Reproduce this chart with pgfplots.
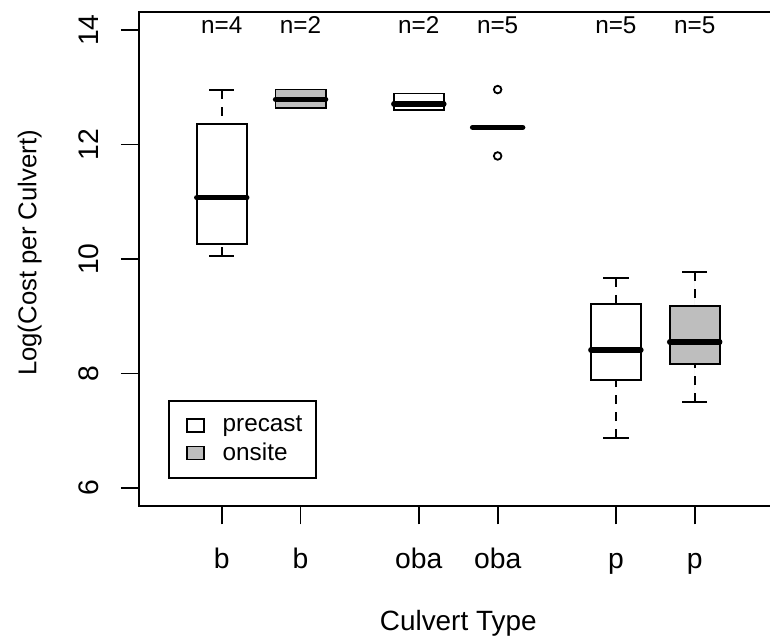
\documentclass[border=0pt]{standalone}
\usepackage{pgfplots}
\pgfplotsset{compat=1.18}
\usepgfplotslibrary{statistics}
\usepackage{fontspec}
\setmainfont{Liberation Sans}
\definecolor{rgray}{RGB}{190,190,190}
\pgfplotsset{
  boxplot/draw/lower whisker/.code={%
    \draw[dash pattern=on 4.5bp off 4bp]
      (boxplot box cs:\pgfplotsboxplotvalue{lower whisker},0.5) --
      (boxplot box cs:\pgfplotsboxplotvalue{lower quartile},0.5);
    \draw (boxplot whisker cs:\pgfplotsboxplotvalue{lower whisker},0) --
      (boxplot whisker cs:\pgfplotsboxplotvalue{lower whisker},1);
  },
  boxplot/draw/upper whisker/.code={%
    \draw[dash pattern=on 4.5bp off 4bp]
      (boxplot box cs:\pgfplotsboxplotvalue{upper whisker},0.5) --
      (boxplot box cs:\pgfplotsboxplotvalue{upper quartile},0.5);
    \draw (boxplot whisker cs:\pgfplotsboxplotvalue{upper whisker},0) --
      (boxplot whisker cs:\pgfplotsboxplotvalue{upper whisker},1);
  },
  boxplot/every median/.style={line width=2.7bp, line cap=round},
  bx/.style={forget plot, draw=black, line width=0.9bp, solid,
    boxplot/draw direction=y,
    boxplot/box extend=0.635, boxplot/whisker extend=0.32},
}
\begin{document}
\begin{tikzpicture}[font=\fontsize{12.2}{14}\selectfont]
\clip (-69.5bp,-66.85bp) rectangle (315.5bp,253.15bp);
\begin{axis}[
  at={(0,0)}, anchor=south west,
  scale only axis, width=319.25bp, height=247.3bp,
  xmin=-0.05, xmax=8.05, ymin=5.68, ymax=14.32,
  axis line style={line width=0.9bp},
  tick style={line width=0.9bp, black},
  major tick length=9bp, tick align=outside,
  xtick pos=bottom, ytick pos=left,
  xtick={1,2,3.5,4.5,6,7},
  xticklabels={b,b,oba,oba,p,p},
  ytick={6,8,10,12,14},
  /pgf/number format/assume math mode=true,
  tick label style={font=\fontsize{14.2}{16}\selectfont},
  xticklabel style={anchor=base, inner sep=0pt},
  xticklabel shift=22.2bp,
  yticklabel style={rotate=90, anchor=base, inner sep=0pt},
  yticklabel shift=11bp,
  xlabel={Culvert Type},
  xlabel style={font=\fontsize{14}{16}\selectfont, at={(axis description cs:0.5,-0.2501)}, anchor=base, inner sep=0pt},
  ylabel={Log(Cost per Culvert)},
  ylabel style={font=\fontsize{12.9}{15}\selectfont, at={(axis description cs:-0.1519,0.512)}, rotate=0, anchor=south, inner sep=0pt},
  legend style={at={(axis description cs:0.0454,0.2149)}, anchor=north west,
    draw=black, line width=0.9bp, inner xsep=5bp, inner ysep=5.5bp,
    nodes={inner sep=2bp}, row sep=0bp, cells={anchor=west},
    /tikz/every odd column/.append style={column sep=7bp},
    font=\fontsize{12.2}{14}\selectfont},
  legend image code/.code={\path (0bp,0bp); \draw[#1] (3.5bp,-3.25bp) rectangle (12bp,3.25bp);},
  clip=false,
]
\addplot[bx, fill=white, boxplot prepared={draw position=1,
  lower whisker=10.05, lower quartile=10.26, median=11.07,
  upper quartile=12.36, upper whisker=12.95}] coordinates {};
\addplot[bx, fill=rgray, boxplot prepared={draw position=2,
  lower whisker=12.64, lower quartile=12.64, median=12.79,
  upper quartile=12.96, upper whisker=12.96}] coordinates {};
\addplot[bx, fill=white, boxplot prepared={draw position=3.5,
  lower whisker=12.60, lower quartile=12.60, median=12.71,
  upper quartile=12.89, upper whisker=12.89}] coordinates {};
\addplot[bx, fill=rgray, boxplot prepared={draw position=4.5,
  lower whisker=12.30, lower quartile=12.30, median=12.30,
  upper quartile=12.30, upper whisker=12.30}] coordinates {};
\addplot[bx, fill=white, boxplot prepared={draw position=6,
  lower whisker=6.87, lower quartile=7.88, median=8.41,
  upper quartile=9.21, upper whisker=9.67}] coordinates {};
\addplot[bx, fill=rgray, boxplot prepared={draw position=7,
  lower whisker=7.50, lower quartile=8.16, median=8.55,
  upper quartile=9.18, upper whisker=9.77}] coordinates {};
\addplot[forget plot, only marks, mark=o, mark size=1.9bp, black,
  mark options={line width=0.9bp}] coordinates {(4.5,12.96) (4.5,11.80)};
\addlegendimage{draw=black, fill=white, line width=0.9bp}
\addlegendentry{precast}
\addlegendimage{draw=black, fill=rgray, line width=0.9bp}
\addlegendentry{onsite}
\foreach \xx/\nn in {1/4, 2/2, 3.5/2, 4.5/5, 6/5, 7/5} {
  \edef\tmp{\noexpand\node[anchor=base, inner sep=0pt, yshift=-1.65bp] at (axis cs:\xx,14) {n=\nn};}
  \tmp
}
\end{axis}
\end{tikzpicture}
\end{document}
